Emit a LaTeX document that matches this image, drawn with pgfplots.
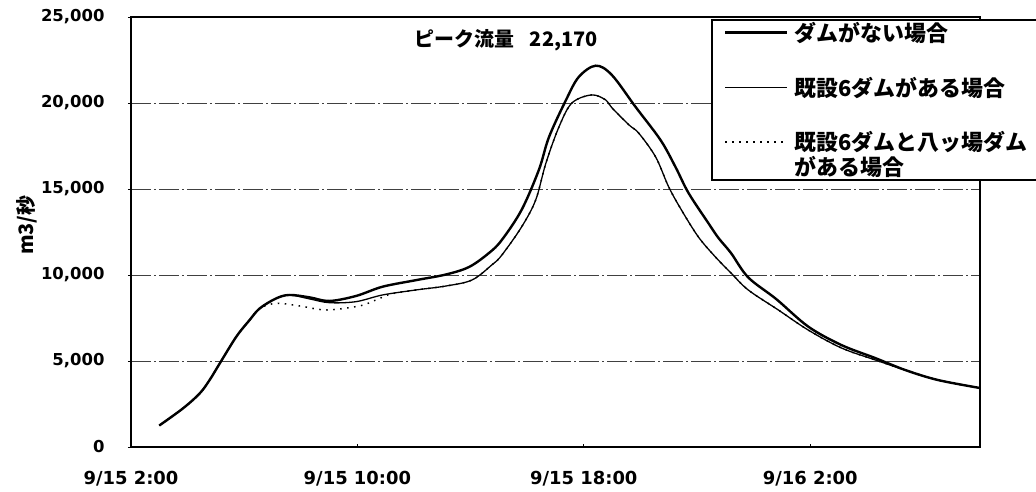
\documentclass[border=0pt]{standalone}
\usepackage{fontspec}
\setmainfont{Noto Sans CJK JP}
\newfontfamily\tickfont{DejaVu Sans}
\usepackage{pgfplots}
\pgfplotsset{compat=1.18}

\begin{document}
\begin{tikzpicture}
\begin{axis}[
  scale only axis, width=849bp, height=430bp,
  xmin=0, xmax=30, ymin=0, ymax=25000,
  clip=false,
  xtick={0,8,16,24},
  xticklabels={9/15 2:00, 9/15 10:00, 9/15 18:00, 9/16 2:00},
  ytick={0,5000,...,25000},
  scaled y ticks=false,
  /pgf/number format/1000 sep={,},
  /pgf/number format/assume math mode=true,
  tick pos=left,
  xtick align=inside, ytick align=outside,
  major tick length=3bp,
  tick style={black, line width=0.8bp},
  axis line style={line width=1.5bp},
  ymajorgrids,
  major grid style={line width=0.7bp, black!75, dash pattern=on 20bp off 3bp on 2bp off 3bp},
  ticklabel style={font=\tickfont\bfseries\fontsize{16.5}{19}\selectfont},
  yticklabel style={xshift=-20bp},
  xticklabel style={font=\tickfont\bfseries\fontsize{18}{21}\selectfont, yshift=-21bp},
  ylabel={m3/秒},
  ylabel style={font=\bfseries\fontsize{20}{22}\selectfont, at={(axis description cs:-0.1225,0.516)}, anchor=center},
  legend image code/.code={\draw[#1] (0bp,0bp) -- (62bp,0bp);},
  legend cell align=left,
  legend style={at={(0.6843,0.993)}, anchor=north west, draw=none, fill=none,
    inner xsep=12bp, inner ysep=0bp, row sep=30bp, column sep=4bp,
    nodes={inner sep=2bp},
    font=\bfseries\fontsize{22}{25}\selectfont},
]
\draw[fill=white, line width=1.2bp] (axis description cs:0.6843,0.6209) rectangle (axis description cs:1.1,0.993);
\addplot[black, line width=2.4bp, smooth, tension=0.55] coordinates {
(1.0,1250) (1.84,2250) (2.43,3120) (2.78,3900) (3.14,4870) (3.72,6410) (4.19,7380) (4.55,8060)
(5.13,8640) (5.6,8840) (6.31,8700) (7.01,8490) (7.95,8780) (8.89,9320) (10.07,9700) (11.13,10030)
(11.95,10470) (12.65,11280) (13.1,12030) (13.8,13780) (14.41,16100) (14.77,18020) (15.37,20170)
(15.82,21510) (16.42,22170) (16.99,21630) (17.83,19770) (18.71,17850) (19.24,16280) (19.7,14770)
(20.4,13020) (20.76,12150) (21.2,11280) (21.81,9860) (22.8,8600) (23.93,7000) (25.1,5930)
(26.3,5170) (27.35,4480) (28.5,3900) (30,3430)};
\addlegendentry{ダムがない場合}
\addplot[black, line width=1.3bp, smooth, tension=0.55] coordinates {
(1.0,1250) (1.84,2250) (2.43,3120) (2.78,3900) (3.14,4870) (3.72,6410) (4.19,7380) (4.55,8060)
(5.13,8640) (5.6,8840) (6.31,8610) (7.01,8390) (7.95,8450) (8.89,8840) (10.07,9130) (11.13,9360)
(12.05,9710) (12.76,10600) (13.1,11150) (13.8,12790) (14.3,14360) (14.66,16500) (15.12,18600)
(15.58,20000) (16.28,20470) (16.78,20170) (17.0,19710) (17.6,18720) (17.94,18250) (18.54,16860)
(19.0,15120) (19.45,13780) (20.05,12210) (20.65,11050) (21.2,10120) (21.81,9130) (22.87,7970)
(23.93,6800) (25.1,5760) (26.3,5060) (27.35,4480) (28.5,3900) (30,3430)};
\addlegendentry{既設6ダムがある場合}
\addplot[black, line width=1.5bp, dash pattern=on 1.5bp off 5.5bp, smooth, tension=0.55] coordinates {
(1.0,1250) (1.84,2250) (2.43,3120) (2.78,3900) (3.14,4870) (3.72,6410) (4.19,7380) (4.55,8060)
(5.13,8350) (5.96,8200) (6.9,7970) (8.07,8200) (8.66,8550) (9.2,8900) (10.07,9130) (11.13,9360)
(12.05,9710) (12.76,10600) (13.1,11150) (13.8,12790) (14.3,14360) (14.66,16500) (15.12,18600)
(15.58,20000) (16.28,20470) (16.78,20170) (17.0,19710) (17.6,18720) (17.94,18250) (18.54,16860)
(19.0,15120) (19.45,13780) (20.05,12210) (20.65,11050) (21.2,10120) (21.81,9130) (22.87,7970)
(23.93,6800) (25.1,5760) (26.3,5060) (27.35,4480) (28.5,3900) (30,3430)};
\addlegendentry{\vtop{\baselineskip=25bp\hbox{既設6ダムと八ッ場ダム}\hbox{がある場合}}}
\node[font=\bfseries\fontsize{20}{22}\selectfont] at (axis description cs:0.4417,0.9465) {ピーク流量\hspace{0.8em}22,170};
\end{axis}
\pgfresetboundingbox
\useasboundingbox (-131bp,-45bp) rectangle (905bp,447bp);
\end{tikzpicture}
\end{document}
